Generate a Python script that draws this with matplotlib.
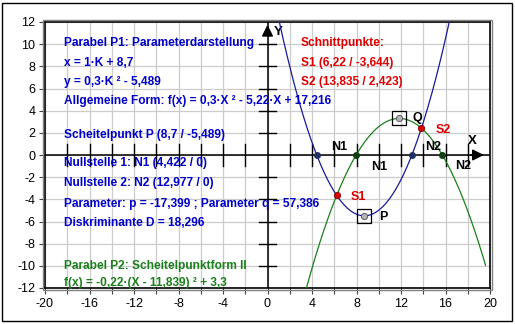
#!/usr/bin/env python3
"""Parabel P1 (Parameterdarstellung) und Parabel P2 (Scheitelpunktform) mit Schnittpunkten."""

import numpy as np
import matplotlib
matplotlib.use("Agg")
from matplotlib import pyplot as plt
from matplotlib.patches import Rectangle

plt.rcParams["axes.unicode_minus"] = False

# P1: x = 1*K + 8.7, y = 0.3*K^2 - 5.489
p1_a, p1_xs, p1_ys = 0.3, 8.7, -5.489
# P2: f(x) = -0.22*(x - 11.839)^2 + 3.3
p2_a, p2_xs, p2_ys = -0.22, 11.839, 3.3

p1_zeros = [4.422, 12.977]
p2_zeros = [7.966, 15.712]
schnitt_x = [6.22, 13.835]
schnitt_y = [-3.644, 2.423]

# label texts and their anchor y in data units
blue_lines = [
    ("Parabel P1: Parameterdarstellung", 10.1),
    ("x = 1·K + 8,7", 8.3),
    ("y = 0,3·K ² - 5,489", 6.6),
    ("Allgemeine Form: f(x) = 0,3·X ² - 5,22·X + 17,216", 4.9),
    ("Scheitelpunkt P (8,7 / -5,489)", 1.8),
    ("Nullstelle 1: N1 (4,422 / 0)", -0.7),
    ("Nullstelle 2: N2 (12,977 / 0)", -2.5),
    ("Parameter: p = -17,399 ; Parameter q = 57,386", -4.4),
    ("Diskriminante D = 18,296", -6.1),
]
green_lines = [
    ("Parabel P2: Scheitelpunktform II", -10.0),
    ("f(x) = -0,22·(X - 11,839) ² + 3,3", -11.55),
]
red_lines = [
    ("Schnittpunkte:", 10.1),
    ("S1 (6,22 / -3,644)", 8.3),
    ("S2 (13,835 / 2,423)", 6.6),
]
point_labels = [
    ("N1", 6.4, 0.75), ("N1", 10.0, -1.1),
    ("N2", 14.9, 0.75), ("N2", 17.6, -1.0),
    ("Q", 13.5, 3.3), ("P", 10.4, -5.6),
]

BLUE = "#0000c8"
NAVY = "#1a1a9a"
GREEN = "#1a801a"
RED = "#dc0000"
FONT = ["Liberation Sans", "DejaVu Sans"]

W, H = 515, 324
fig = plt.figure(figsize=(W / 100, H / 100), dpi=100)
fig.patch.set_facecolor("white")
ax = fig.add_axes([45 / W, 1 - 288 / H, 445 / W, 266 / H])

ax.set_xlim(-20, 20)
ax.set_ylim(-12, 12)

# grid every 2 units
for g in np.arange(-20, 21, 2):
    ax.axvline(g, color="#cccccc", lw=0.9, zorder=0)
for g in np.arange(-12, 13, 2):
    ax.axhline(g, color="#cccccc", lw=0.9, zorder=0)

# coordinate axes with arrows
ax.plot([-20, 20], [0, 0], color="black", lw=1.1, zorder=2)
ax.plot([0, 0], [-12, 12], color="black", lw=1.1, zorder=2)
ax.annotate("", xy=(19.7, 0), xytext=(18.0, 0),
            arrowprops=dict(arrowstyle="-|>", color="black", lw=1.1,
                            mutation_scale=17), zorder=3)
ax.annotate("", xy=(0, 12), xytext=(0, 10.6),
            arrowprops=dict(arrowstyle="-|>", color="black", lw=1.1,
                            mutation_scale=17), zorder=3)
ax.text(18.4, 1.3, "X", fontsize=9.5, fontweight="bold", family=FONT,
        ha="center", va="center")
ax.text(1.0, 11.1, "Y", fontsize=9.5, fontweight="bold", family=FONT,
        ha="center", va="center")
for t in np.arange(-18, 20, 2):
    if t != 0:
        ax.plot([t, t], [-1.0, 1.0], color="black", lw=1.0, zorder=2)
for t in np.arange(-10, 12, 2):
    if t != 0:
        ax.plot([-0.8, 0.8], [t, t], color="black", lw=1.0, zorder=2)

# curves
x = np.linspace(-20, 20, 800)
ax.plot(x, p1_a * (x - p1_xs) ** 2 + p1_ys, color=NAVY, lw=0.9, zorder=3)
x2 = np.linspace(-20, 19.6, 800)
ax.plot(x2, p2_a * (x2 - p2_xs) ** 2 + p2_ys, color=GREEN, lw=0.9, zorder=3)

# points
ax.plot(p1_zeros, [0, 0], "o", ms=4, color="#203060", zorder=4)
ax.plot(p2_zeros, [0, 0], "o", ms=4, color="#104010", zorder=4)
ax.plot(schnitt_x, schnitt_y, "o", ms=4.5, mfc=RED, mec="#800000", mew=0.6, zorder=4)
for vx, vy in [(p1_xs, p1_ys), (p2_xs, p2_ys)]:
    ax.plot(vx, vy, "s", ms=10.5, mfc="none", mec="black", mew=0.9, zorder=4)
    ax.plot(vx, vy, "o", ms=4.5, mfc="#b4b4b4", mec="#505050", mew=0.6, zorder=5)

for s, px, py in point_labels:
    ax.text(px, py, s, fontsize=9, fontweight="bold", color="black",
            family=FONT, ha="center", va="center", zorder=6)
ax.text(15.8, 2.3, "S2", fontsize=9, fontweight="bold", color=RED,
        family=FONT, ha="center", va="center", zorder=6)
ax.text(8.2, -3.8, "S1", fontsize=9, fontweight="bold", color=RED,
        family=FONT, ha="center", va="center", zorder=6)

# info texts
for s, yy in blue_lines:
    ax.text(-18.3, yy, s, fontsize=8.6, fontweight="bold", color=BLUE,
            family=FONT, ha="left", va="center", zorder=6)
for s, yy in green_lines:
    ax.text(-18.3, yy, s, fontsize=8.6, fontweight="bold", color=GREEN,
            family=FONT, ha="left", va="center", zorder=6)
for s, yy in red_lines:
    ax.text(3.0, yy, s, fontsize=8.6, fontweight="bold", color=RED,
            family=FONT, ha="left", va="center", zorder=6)

# outer ticks
ax.set_xticks(np.arange(-20, 21, 4))
ax.set_xticks(np.arange(-18, 20, 4), minor=True)
ax.set_yticks(np.arange(-12, 13, 2))
ax.tick_params(axis="both", which="both", direction="out", length=4,
               width=0.8, color="#404040", labelsize=9, pad=3)
for lab in ax.get_xticklabels() + ax.get_yticklabels():
    lab.set_family(FONT)

for sp in ax.spines.values():
    sp.set_color("black")
    sp.set_linewidth(1.2)
ax.add_patch(Rectangle((-0.004, -0.006), 1.008, 1.012, transform=ax.transAxes,
                       fill=False, ec="#808080", lw=1.0, clip_on=False, zorder=7))

# image border
fig.add_artist(Rectangle((2 / W, 3 / H), 510 / W, 318 / H, transform=fig.transFigure,
                         fill=False, ec="black", lw=1.0))

fig.savefig("out.png", dpi=100)
